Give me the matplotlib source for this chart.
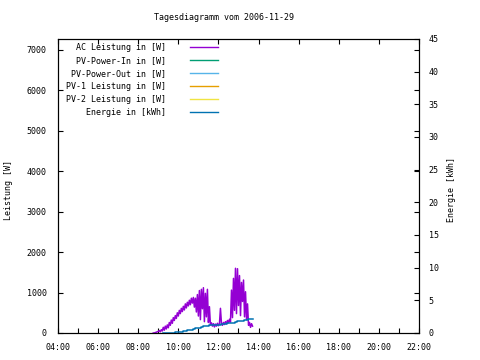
import matplotlib
matplotlib.use("Agg")
import matplotlib.pyplot as plt
from matplotlib.ticker import MultipleLocator
from datetime import datetime

# AC power samples (time, watts)
ac_times = [
    "08:45", "08:48", "08:51", "08:54", "08:57", "09:00", "09:03", "09:06", "09:09", "09:12",
    "09:15", "09:18", "09:21", "09:24", "09:27", "09:30", "09:33", "09:36", "09:39", "09:42",
    "09:45", "09:48", "09:51", "09:54", "09:57", "10:00", "10:03", "10:06", "10:09", "10:12",
    "10:15", "10:18", "10:21", "10:24", "10:27", "10:30", "10:33", "10:36", "10:39", "10:42",
    "10:45", "10:48", "10:51", "10:54", "10:57", "11:00", "11:03", "11:06", "11:09", "11:12",
    "11:15", "11:18", "11:21", "11:24", "11:27", "11:30", "11:33", "11:36", "11:39", "11:42",
    "11:45", "11:48", "11:51", "11:54", "11:57", "12:00", "12:03", "12:06", "12:09", "12:12",
    "12:15", "12:18", "12:21", "12:24", "12:27", "12:30", "12:33", "12:36", "12:39", "12:42",
    "12:45", "12:48", "12:51", "12:54", "12:57", "13:00", "13:03", "13:06", "13:09", "13:12",
    "13:15", "13:18", "13:21", "13:24", "13:27", "13:30", "13:33", "13:36", "13:39", "13:42",
]
ac_watts = [
    0, 0, 10, 20, 30, 40, 60, 30, 80, 50,
    140, 70, 170, 100, 200, 130, 260, 190, 320, 240,
    380, 310, 430, 360, 500, 420, 560, 480, 610, 530,
    660, 570, 720, 620, 760, 670, 810, 700, 860, 740,
    880, 640, 860, 520, 950, 420, 1050, 330, 1080, 600,
    1120, 280, 980, 400, 1080, 260, 650, 200, 250, 170,
    230, 150, 220, 170, 240, 180, 230, 610, 240, 190,
    260, 210, 280, 230, 310, 250, 340, 270, 1060, 380,
    1350, 560, 1600, 480, 1590, 680, 1420, 430, 1250, 780,
    1310, 400, 1020, 330, 720, 190, 260, 140, 230, 170,
]

# Energy (kWh) samples
en_times = [
    "09:15", "09:21", "09:27", "09:33", "09:39", "09:45", "09:51", "09:57", "10:03", "10:09",
    "10:15", "10:21", "10:27", "10:33", "10:39", "10:45", "10:51", "10:57", "11:03", "11:09",
    "11:15", "11:21", "11:27", "11:33", "11:39", "11:45", "11:51", "11:57", "12:03", "12:09",
    "12:15", "12:21", "12:27", "12:33", "12:39", "12:45", "12:51", "12:57", "13:03", "13:09",
    "13:15", "13:21", "13:27", "13:33", "13:39", "13:42",
]
en_kwh = [
    0.0, 0.0, 0.0, 0.0, 0.0, 0.0, 0.1, 0.1, 0.2, 0.2,
    0.3, 0.3, 0.4, 0.5, 0.5, 0.6, 0.7, 0.8, 0.8, 0.9,
    1.0, 1.1, 1.1, 1.2, 1.2, 1.2, 1.3, 1.3, 1.3, 1.4,
    1.4, 1.4, 1.5, 1.5, 1.6, 1.6, 1.7, 1.8, 1.8, 1.9,
    2.0, 2.0, 2.1, 2.1, 2.1, 2.1,
]

series_labels = ["AC Leistung in [W]", "PV-Power-In in [W]", "PV-Power-Out in [W]",
                 "PV-1 Leistung in [W]", "PV-2 Leistung in [W]", "Energie in [kWh]"]
series_colors = ["#9400d3", "#009e73", "#56b4e9", "#e69f00", "#f0e442", "#0072b2"]

x_ticks = ["04:00", "06:00", "08:00", "10:00", "12:00", "14:00", "16:00", "18:00", "20:00", "22:00"]


def to_hours(s):
    t = datetime.strptime(s, "%H:%M")
    return t.hour + t.minute / 60.0


plt.rcParams["font.family"] = "DejaVu Sans Mono"
plt.rcParams["font.size"] = 6

fig = plt.figure(figsize=(4.8, 3.6), dpi=100)
ax = fig.add_axes([58 / 480, 1 - 333 / 360, 361 / 480, 294 / 360])
ax2 = ax.twinx()

lw = 1.0
ax.plot([to_hours(t) for t in ac_times], ac_watts, color=series_colors[0], lw=1.1)
ax2.plot([to_hours(t) for t in en_times], en_kwh, color=series_colors[5], lw=1.1,
         drawstyle="steps-post")

ax.set_xlim(4, 22)
ax.set_ylim(0, 7270)
ax2.set_ylim(0, 45)

ax.set_xticks([to_hours(t) for t in x_ticks])
ax.set_xticklabels(x_ticks)
ax.xaxis.set_minor_locator(MultipleLocator(1))
ax.yaxis.set_major_locator(MultipleLocator(1000))
ax2.yaxis.set_major_locator(MultipleLocator(5))

ax.tick_params(which="both", direction="in", length=3.5, width=0.8,
               top=True, right=True, pad=7)
ax.tick_params(axis="x", which="minor", top=False, length=3.5)
ax.tick_params(axis="y", pad=8)
ax2.tick_params(direction="in", length=3.5, width=0.8, pad=7)
for a in (ax, ax2):
    for sp in a.spines.values():
        sp.set_linewidth(0.8)

# legend, text right-aligned before the line sample
for i, (lab, col) in enumerate(zip(series_labels, series_colors)):
    yy = (333 - (47.3 + 13 * i)) / 294
    ax2.text((166 - 58) / 361, yy, lab, transform=ax2.transAxes,
             ha="right", va="center")
    ax2.plot([(190 - 58) / 361, (218 - 58) / 361], [yy, yy], color=col, lw=lw,
             transform=ax2.transAxes)

fig.text(224 / 480, 1 - 18 / 360, "Tagesdiagramm vom 2006-11-29", ha="center", va="center")
fig.text(9 / 480, 1 - 190 / 360, "Leistung [W]", rotation=90, ha="center", va="center")
fig.text(452 / 480, 1 - 190 / 360, "Energie [kWh]", rotation=90, ha="center", va="center")

fig.savefig("out.png", dpi=100)
